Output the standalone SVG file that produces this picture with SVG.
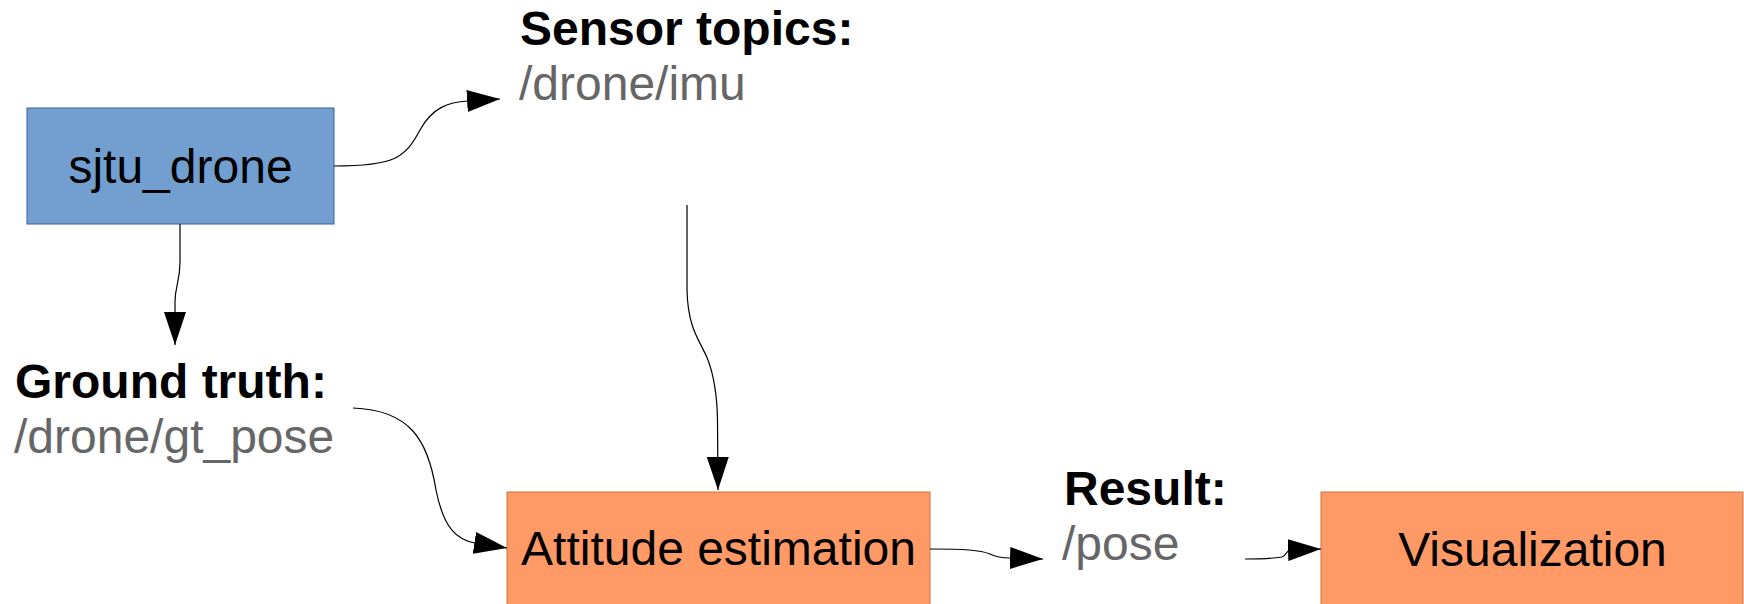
<svg xmlns="http://www.w3.org/2000/svg" width="1744" height="604" viewBox="0 0 1744 604">
<defs>
<style>
.lbl{font-family:"Liberation Sans",Arial,sans-serif;font-size:48px}
.bold{font-weight:bold;fill:#000}
.topic{fill:#666666}
.ntext{fill:#000;text-anchor:middle}
.blue{fill:#729fcf;stroke:#3465a4;stroke-width:1}
.orange{fill:#ff9966;stroke:#d0703c;stroke-width:1}
.conn{fill:none;stroke:#000;stroke-width:1.2}
</style>
<marker id="ah" viewBox="0 0 33 22" markerWidth="33" markerHeight="22" refX="33" refY="11" orient="auto" markerUnits="userSpaceOnUse">
<path d="M0,0 L33,11 L0,22 z" fill="#000"/>
</marker>
</defs>
<rect width="1744" height="604" fill="#fff"/>
<g id="sjtu_drone">
<rect class="blue" x="27" y="108" width="307" height="116"/>
<text class="lbl ntext" x="180.5" y="183">sjtu_drone</text>
</g>
<g id="sensor_topics">
<text class="lbl bold" x="520" y="45">Sensor topics:</text>
<text class="lbl topic" x="519" y="100">/drone/imu</text>
</g>
<g id="ground_truth">
<text class="lbl bold" x="15" y="398">Ground truth:</text>
<text class="lbl topic" x="14" y="453">/drone/gt_pose</text>
</g>
<g id="attitude_estimation">
<rect class="orange" x="507" y="492" width="423" height="120"/>
<text class="lbl ntext" x="718.5" y="565">Attitude estimation</text>
</g>
<g id="result">
<text class="lbl bold" x="1064" y="505">Result:</text>
<text class="lbl topic" x="1062" y="560">/pose</text>
</g>
<g id="visualization">
<rect class="orange" x="1321" y="492" width="422" height="120"/>
<text class="lbl ntext" x="1532.5" y="566">Visualization</text>
</g>
<g id="connectors">
<path class="conn" marker-end="url(#ah)" d="M334,166 C395,166 405,158 420,130 C432,108 448,102 468,101 L500,99"/>
<path class="conn" marker-end="url(#ah)" d="M180,224 L180,262 C180,282 175,286 175,302 L175,345"/>
<path class="conn" marker-end="url(#ah)" d="M687,205 L687,290 C688,330 700,340 708,360 C714,376 717,392 717.5,420 L718,490"/>
<path class="conn" marker-end="url(#ah)" d="M353,408 C410,410 428,440 436,490 C444,530 458,540 475,543 L507,548"/>
<path class="conn" marker-end="url(#ah)" d="M930,549 C965,549 980,550 990,554 C998,558 1004,558 1010,558 L1043,559"/>
<path class="conn" marker-end="url(#ah)" d="M1245,559 C1260,559 1275,558 1282,557 C1287,555 1286,551 1290,550 L1321,549"/>
</g>
</svg>
